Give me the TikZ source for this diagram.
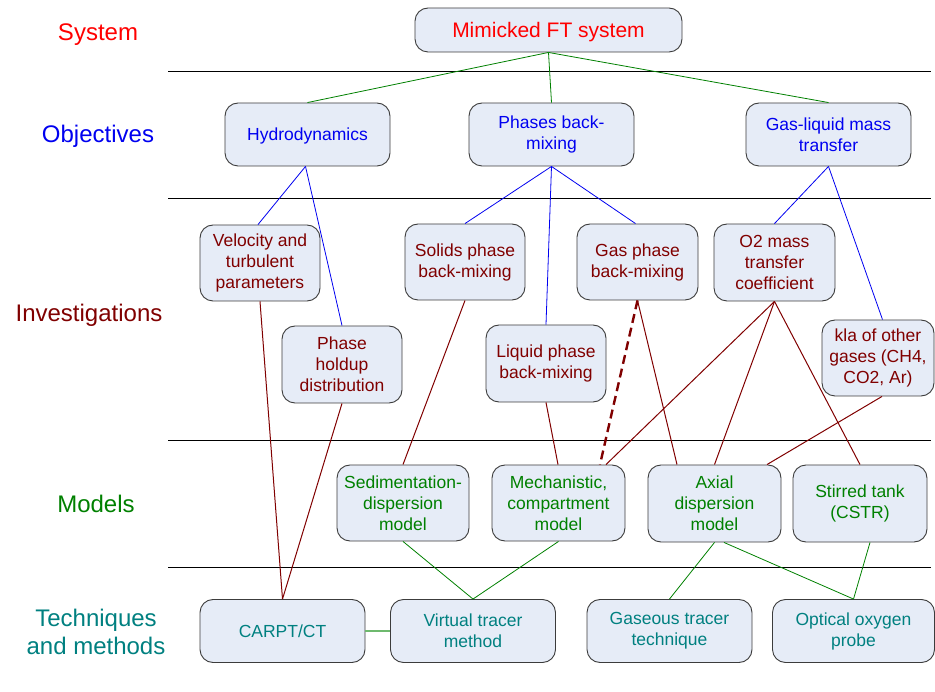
\documentclass[tikz,border=0pt]{standalone}
\usepackage{fontspec}
\setmainfont{Liberation Sans}
\usetikzlibrary{calc}
\definecolor{boxfill}{RGB}{230,236,247}
\definecolor{boxline}{RGB}{60,60,60}
\definecolor{sysred}{RGB}{255,0,0}
\definecolor{objblue}{RGB}{0,0,240}
\definecolor{invred}{RGB}{128,0,0}
\definecolor{modgreen}{RGB}{0,128,0}
\definecolor{techteal}{RGB}{0,128,128}
\definecolor{lightgreen}{RGB}{110,185,110}
\tikzset{
  box/.style={draw=boxline, fill=boxfill, line width=0.9pt, rounded corners=13pt,
    inner sep=0pt, align=center, font=\fontsize{17.5}{21}\selectfont},
  wide/.style={box, minimum width=165pt, minimum height=63pt},
  mid/.style={box, minimum width=120pt, minimum height=76pt},
  modbox/.style={box, minimum width=133pt, minimum height=76pt, text=modgreen},
  techbox/.style={box, minimum width=165pt, minimum height=63pt, text=techteal},
  invbox/.style={mid, text=invred},
  objbox/.style={wide, text=objblue},
  lvl/.style={font=\fontsize{24}{28}\selectfont, align=center, inner sep=0pt},
  sep/.style={line width=0.8pt, black},
  gline/.style={draw=modgreen, line width=0.8pt},
  bline/.style={draw=objblue, line width=0.8pt},
  rline/.style={draw=invred, line width=1pt},
  rdash/.style={draw=invred, line width=2.4pt, dash pattern=on 9pt off 5pt},
}
\begin{document}
\begin{tikzpicture}[x=1pt,y=-1pt]
\useasboundingbox (0,0) rectangle (935,692);
% separators
\coordinate (s1a) at (168,71);  \coordinate (s1b) at (931,71);
\coordinate (s2a) at (168,198); \coordinate (s2b) at (931,198);
\coordinate (s3a) at (168,440); \coordinate (s3b) at (931,440);
\coordinate (s4a) at (168,567); \coordinate (s4b) at (931,567);
\draw[sep] (s1a) -- (s1b);
\draw[sep] (s2a) -- (s2b);
\draw[sep] (s3a) -- (s3b);
\draw[sep] (s4a) -- (s4b);
% level labels
\node[lvl, text=sysred] (lsys) at (98,35) {System};
\node[lvl, text=objblue] (lobj) at (98,136) {Objectives};
\node[lvl, text=invred] (linv) at (89,315) {Investigations};
\node[lvl, text=modgreen] (lmod) at (96,504) {Models};
\node[lvl, text=techteal] (ltech) at (96,632) {Techniques\\and methods};
% nodes
\node[box, minimum width=267pt, minimum height=44pt, text=sysred, text depth=0pt, font=\fontsize{21}{25}\selectfont] (ft) at (548.5,30) {Mimicked FT system};
\node[objbox, text depth=0pt] (hyd) at (307.5,134.5) {Hydrodynamics};
\node[objbox] (pbm) at (551.5,134.5) {Phases back-\\mixing};
\node[objbox] (glm) at (828.5,134.5) {Gas-liquid mass\\transfer};
\node[invbox] (vel) at (260,263) {Velocity and\\turbulent\\parameters};
\node[invbox, minimum height=77pt] (hold) at (342,364.5) {Phase\\holdup\\distribution};
\node[invbox] (sol) at (465,262) {Solids phase\\back-mixing};
\node[invbox, minimum width=121pt] (gas) at (637.5,262) {Gas phase\\back-mixing};
\node[invbox, minimum height=77pt] (liq) at (546,363.5) {Liquid phase\\back-mixing};
\node[invbox, minimum width=121pt, minimum height=77pt] (o2) at (774.5,262.5) {O2 mass\\transfer\\coefficient};
\node[invbox, minimum width=112pt] (kla) at (878,358) {kla of other\\gases (CH4,\\CO2, Ar)};
\node[modbox, minimum width=132pt] (sed) at (403,503) {Sedimentation-\\dispersion\\model};
\node[modbox] (mech) at (558.5,503) {Mechanistic,\\compartment\\model};
\node[modbox, minimum height=77pt] (axial) at (714.5,503.5) {Axial\\dispersion\\model};
\node[modbox, minimum width=134pt, minimum height=77pt] (stir) at (860,503.5) {Stirred tank\\(CSTR)};
\node[techbox, text depth=0pt] (carpt) at (282.5,631) {CARPT/CT};
\node[techbox] (virt) at (473,631) {Virtual tracer\\method};
\node[techbox] (gast) at (669.5,631) {Gaseous tracer\\technique};
\node[techbox, minimum width=162pt] (opt) at (853.5,631) {Optical oxygen\\probe};
% system -> objectives
\draw[gline] (ft.south) -- (hyd.north);
\draw[gline] (ft.south) -- (pbm.north);
\draw[gline] (ft.south) -- (glm.north);
% objectives -> investigations
\draw[bline] ($(hyd.south)+(-2,0)$) -- ($(vel.north)+(-2,0)$);
\draw[bline] ($(hyd.south)+(-2,0)$) -- (hold.north);
\draw[bline] (pbm.south) -- (sol.north);
\draw[bline] (pbm.south) -- ($(gas.north)+(-2,0)$);
\draw[bline] (pbm.south) -- (liq.north);
\draw[bline] (glm.south) -- (o2.north);
\draw[bline] (glm.south) -- ($(kla.north)+(4.5,0)$);
% investigations -> models / techniques
\draw[rline] (vel.south) -- (carpt.north);
\draw[rline] (hold.south) -- (carpt.north);
\draw[rline] (sol.south) -- (sed.north);
\draw[rline] (liq.south) -- ($(mech.north)+(-0.5,0)$);
\draw[rdash] (gas.south) -- ($(mech.north)+(41.5,0)$);
\draw[rline] (gas.south) -- ($(axial.north)+(-37.5,0)$);
\draw[rline] (o2.south) -- ($(mech.north)+(47.5,0)$);
\draw[rline] (o2.south) -- (axial.north);
\draw[rline] (o2.south) -- (stir.north);
\draw[rline] ($(kla.south)+(4,0)$) -- ($(axial.north)+(52.5,0)$);
% models -> techniques
\draw[gline] (sed.south) -- (virt.north);
\draw[gline] (mech.south) -- (virt.north);
\draw[gline] (axial.south) -- (gast.north);
\draw[gline] ($(axial.south)+(9.5,0)$) -- (opt.north);
\draw[gline] ($(stir.south)+(10,0)$) -- (opt.north);
\draw[draw=lightgreen, line width=2pt] (carpt.east) -- (virt.west);
\end{tikzpicture}
\end{document}
